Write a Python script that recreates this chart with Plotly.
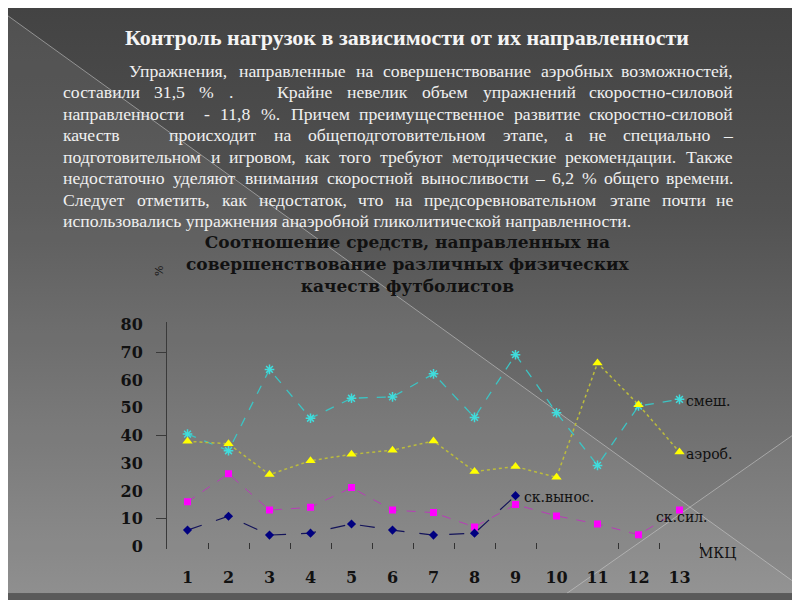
import base64
import plotly.graph_objects as go

W, H = 800, 600
OFF = 8  # page body margin offset compensation

# ---------------- data ----------------
categories = list(range(1, 14))
cat_labels = [str(c) for c in categories]
series_names = ["смеш.", "аэроб.", "ск.вынос.", "ск.сил."]
smesh = [40.5, 34.5, 63.8, 46.2, 53.4, 53.9, 62.2, 46.5, 69.1, 48.2, 29.2, 50.6, 53.0]
aerob = [37.9, 37.0, 25.9, 30.9, 33.2, 34.7, 38.0, 27.0, 28.8, 24.9, 66.1, 51.1, 34.0]
sk_vynos = [5.9, 10.9, 4.1, 4.8, 8.1, 5.9, 4.1, 4.8, 18.3, None, None, None, None]
sk_sil = [16.1, 26.2, 13.1, 14.1, 21.2, 13.1, 12.2, 7.0, 15.1, 11.0, 8.1, 4.2, 13.1]
y_tick_vals = [0, 10, 20, 30, 40, 50, 60, 70, 80]
y_tick_marks = [10, 40, 70]
x_tick_marks = [1.5, 2.5, 3.5, 4.5, 5.5, 6.5, 7.5, 8.5, 9.5, 11.5, 12.5, 13.5]
x_axis_title = "МКЦ"
y_axis_title = "%"

slide_title = "Контроль нагрузок в зависимости от их направленности"
para_lines = [
    "Упражнения, направленные на совершенствование аэробных возможностей,",
    "составили 31,5 % .   Крайне невелик объем упражнений скоростно-силовой",
    "направленности  - 11,8 %. Причем преимущественное развитие скоростно-силовой",
    "качеств   происходит на общеподготовительном этапе, а не специально –",
    "подготовительном и игровом, как того требуют методические рекомендации. Также",
    "недостаточно уделяют внимания скоростной выносливости – 6,2 % общего времени.",
    "Следует отметить, как недостаток, что на предсоревновательном этапе почти не",
    "использовались упражнения анаэробной гликолитической направленности.",
]
chart_title = "Соотношение средств, направленных на<br>совершенствование различных физических<br>качеств футболистов"


def px(x):
    return (x - OFF) / W


def py(y):
    return 1 - (y - OFF) / H


# approximate Times-like glyph widths (em) for justification
CW = {
    'а': .444, 'б': .509, 'в': .472, 'г': .410, 'д': .509, 'е': .444, 'ж': .691, 'з': .395,
    'и': .535, 'й': .535, 'к': .486, 'л': .499, 'м': .633, 'н': .535, 'о': .500, 'п': .535,
    'р': .500, 'с': .444, 'т': .437, 'у': .500, 'ф': .648, 'х': .500, 'ц': .535, 'ч': .503,
    'ш': .770, 'щ': .770, 'ъ': .517, 'ы': .672, 'ь': .456, 'э': .429, 'ю': .747, 'я': .486,
    ',': .25, '.': .25, ' ': .25, '%': .833, '-': .333, '–': .5,
}


def est_w(s, size):
    tot = 0
    for ch in s:
        if ch in CW:
            tot += CW[ch]
        elif ch.isdigit():
            tot += 0.5
        elif ch.isupper():
            tot += 0.70
        else:
            tot += 0.5
    return tot * size


# ---------------- background (decorative slide) ----------------
svg = f"""<svg xmlns='http://www.w3.org/2000/svg' width='{W}' height='{H}' viewBox='0 0 {W} {H}' preserveAspectRatio='none'>
<defs><linearGradient id='g' x1='0' y1='0' x2='0' y2='1'>
<stop offset='0' stop-color='#434343'/><stop offset='0.35' stop-color='#525252'/>
<stop offset='1' stop-color='#878787'/></linearGradient></defs>
<rect width='{W}' height='{H}' fill='url(#g)'/>
<polygon points='0,3 800,593 800,600 0,600' fill='#ffffff' fill-opacity='0.07'/>
<polygon points='567,600 800,433 800,600' fill='#ffffff' fill-opacity='0.04'/>
<line x1='0' y1='3' x2='800' y2='593' stroke='#d0d0d0' stroke-opacity='0.55' stroke-width='1'/>
<line x1='567' y1='600' x2='800' y2='433' stroke='#d0d0d0' stroke-opacity='0.55' stroke-width='1'/>
</svg>"""
bg_uri = "data:image/svg+xml;base64," + base64.b64encode(svg.encode("utf-8")).decode("ascii")

fig = go.Figure()

fig.add_trace(go.Scatter(
    x=categories, y=smesh, name=series_names[0], mode="lines+markers",
    line=dict(color="#3cc4c4", width=1.3, dash="dash"),
    marker=dict(symbol="asterisk-open", size=8, color="#40dcdc",
                line=dict(color="#40dcdc", width=1.5)),
))
fig.add_trace(go.Scatter(
    x=categories, y=aerob, name=series_names[1], mode="lines+markers",
    line=dict(color="#bcbc3c", width=1.5, dash="dot"),
    marker=dict(symbol="triangle-up", size=9, color="#ffff00", line=dict(width=0)),
))
fig.add_trace(go.Scatter(
    x=categories, y=sk_sil, name=series_names[3], mode="lines+markers",
    line=dict(color="#b83cb8", width=1, dash="dash"),
    marker=dict(symbol="square", size=7, color="#ff00ff", line=dict(width=0)),
))
fig.add_trace(go.Scatter(
    x=categories, y=sk_vynos, name=series_names[2], mode="lines+markers",
    line=dict(color="#14145a", width=1.2, dash="longdash"),
    marker=dict(symbol="diamond", size=7, color="#000080", line=dict(width=0)),
))

axis_font = dict(family="DejaVu Serif", size=16, color="#111111", weight="bold")

fig.update_layout(
    width=W, height=H,
    margin=dict(l=0, r=0, t=0, b=0),
    paper_bgcolor="#5a5a5a",
    plot_bgcolor="rgba(0,0,0,0)",
    showlegend=False,
    images=[dict(source=bg_uri, xref="paper", yref="paper", x=px(0), y=py(0),
                 sizex=1, sizey=1, sizing="stretch", xanchor="left",
                 yanchor="top", layer="below")],
    xaxis=dict(
        domain=[px(167), px(700)], range=[0.5, 13.5],
        tickvals=categories, ticktext=cat_labels, ticks="",
        tickfont=axis_font, ticklabelstandoff=17,
        showline=False, showgrid=False, zeroline=False,
        minor=dict(tickmode="array", tickvals=x_tick_marks, ticks="inside",
                   ticklen=6, tickcolor="#333333", tickwidth=1, showgrid=False),
    ),
    yaxis=dict(
        domain=[py(555), py(322)], range=[-1, 81],
        tickvals=y_tick_vals, ticks="", tickfont=axis_font,
        ticklabelstandoff=20,
        showline=True, linecolor="#3a3a3a", linewidth=1,
        showgrid=False, zeroline=False,
        minor=dict(tickmode="array", tickvals=y_tick_marks, ticks="outside",
                   ticklen=10, tickcolor="#3a3a3a", tickwidth=1, showgrid=False),
    ),
)

ann = []
# slide title
ann.append(dict(text=slide_title, x=px(407), y=py(31), xref="paper", yref="paper",
                showarrow=False, xanchor="center", yanchor="middle",
                font=dict(family="Liberation Serif", size=22, color="#f4f4f4", weight="bold")))

# justified paragraph
PS = 17.7
para_y = [65 + 22 * i for i in range(len(para_lines))]
left_x, right_x = 62, 734
pfont = dict(family="Liberation Serif", size=PS, color="#f0f0f0")
for i, line in enumerate(para_lines):
    yv = py(para_y[i])
    lx = 128 if i == 0 else left_x
    if i == len(para_lines) - 1:
        ann.append(dict(text=line, x=px(lx), y=yv, xref="paper", yref="paper",
                        showarrow=False, xanchor="left", yanchor="middle",
                        font=pfont, borderpad=0))
        continue
    toks = line.split(" ")
    nsep = len(toks) - 1
    widths = [est_w(t, PS) for t in toks]
    gap = (right_x - lx - sum(widths)) / nsep
    xcur = lx
    for j, t in enumerate(toks):
        if t:
            if j == len(toks) - 1:
                ann.append(dict(text=t, x=px(right_x), y=yv, xref="paper", yref="paper",
                                showarrow=False, xanchor="right", yanchor="middle",
                                font=pfont, borderpad=0))
            else:
                ann.append(dict(text=t, x=px(xcur), y=yv, xref="paper", yref="paper",
                                showarrow=False, xanchor="left", yanchor="middle",
                                font=pfont, borderpad=0))
        xcur += widths[j] + gap

# chart title
ann.append(dict(text=chart_title, x=px(408), y=py(263), xref="paper", yref="paper",
                showarrow=False, xanchor="center", yanchor="middle", align="center",
                font=dict(family="DejaVu Serif", size=17, color="#111111", weight="bold")))
# y axis title
ann.append(dict(text=y_axis_title, x=px(160), y=py(270), xref="paper", yref="paper",
                showarrow=False, textangle=-90, xanchor="center", yanchor="middle",
                font=dict(family="DejaVu Serif", size=11, color="#111111")))
# x axis title
ann.append(dict(text=x_axis_title, x=px(697), y=py(559), xref="paper", yref="paper",
                showarrow=False, xanchor="left", yanchor="middle",
                font=dict(family="DejaVu Serif", size=14, color="#111111")))

# series labels
lab_font = dict(family="DejaVu Serif", size=14, color="#111111")
label_pos = {"смеш.": (684, 403), "аэроб.": (684, 457), "ск.вынос.": (522, 502), "ск.сил.": (654, 522)}
for name in series_names:
    lx, ly = label_pos[name]
    ann.append(dict(text=name, x=px(lx), y=py(ly), xref="paper", yref="paper",
                    showarrow=False, xanchor="left", yanchor="middle", font=lab_font))

fig.update_layout(annotations=ann)

fig.write_html("out.html")
